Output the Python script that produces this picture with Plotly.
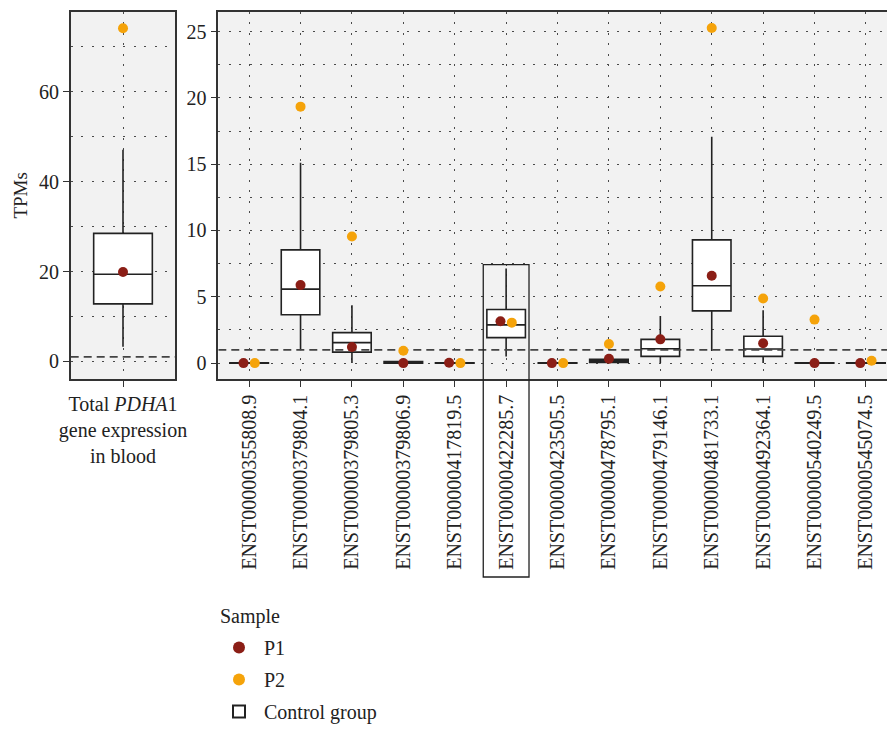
import plotly.graph_objects as go

# ---------------- data ----------------
transcripts = ["ENST00000355808.9", "ENST00000379804.1", "ENST00000379805.3",
               "ENST00000379806.9", "ENST00000417819.5", "ENST00000422285.7",
               "ENST00000423505.5", "ENST00000478795.1", "ENST00000479146.1",
               "ENST00000481733.1", "ENST00000492364.1", "ENST00000540249.5",
               "ENST00000545074.5"]
ctrl_lower = [0.0, 0.96, 0.0, 0.0, 0.0, 0.50, 0.0, 0.0, 0.0, 0.91, 0.0, 0.0, 0.0]
ctrl_q1 = [0.0, 3.64, 0.83, 0.0, 0.0, 1.92, 0.0, 0.04, 0.51, 3.94, 0.51, 0.0, 0.0]
ctrl_median = [0.0, 5.58, 1.54, 0.05, 0.0, 2.88, 0.0, 0.15, 1.08, 5.83, 1.06, 0.0, 0.0]
ctrl_q3 = [0.02, 8.54, 2.30, 0.12, 0.02, 4.04, 0.02, 0.28, 1.79, 9.29, 2.02, 0.02, 0.02]
ctrl_upper = [0.04, 15.1, 4.37, 0.2, 0.04, 7.14, 0.04, 0.35, 3.56, 17.07, 3.99, 0.04, 0.04]
p1_tpm = [0.0, 5.88, 1.21, 0.0, 0.03, 3.15, 0.0, 0.33, 1.79, 6.59, 1.49, 0.0, 0.0]
p2_tpm = [0.0, 19.34, 9.55, 0.93, 0.0, 3.05, 0.0, 1.44, 5.78, 25.27, 4.87, 3.28, 0.17]

total_label = "Total <i>PDHA</i>1<br>gene expression<br>in blood"
total_lower, total_q1, total_median, total_q3, total_upper = 3.3, 12.8, 19.4, 28.5, 47.1
total_p1, total_p2 = 19.9, 74.1

threshold = 1.0
highlight = "ENST00000422285.7"
highlight_top = 7.42

# ---------------- style ----------------
FONT = "Liberation Serif"
C_P1 = "#8b1e16"
C_P2 = "#f5a30a"
BG = "#f2f2f2"
AX = "#333333"
GRID = "#4a4a4a"
GDASH = "2px,8.5px"
TXT = "#222222"

W, H = 887, 731
y_top_px, y_bot_px = 11.7, 379.0
ydom = [1 - y_bot_px / H, 1 - y_top_px / H]
x1dom = [70.7 / W, 175.3 / W]
x2dom = [218.3 / W, 1.0]

x1range = [-0.6, 0.6]
x2range = [-0.6, 12.41]
y1range = [-3.9, 77.8]
y2range = [-1.2, 26.5]

idx = list(range(len(transcripts)))

def dodge(a, b):
    return 0.11 if abs(a - b) < 0.6 else 0.0

fig = go.Figure()

box_style = dict(fillcolor="white", line=dict(color="#222222", width=1.6),
                 whiskerwidth=0, boxpoints=False, hoverinfo="skip")
# control boxes
fig.add_trace(go.Box(
    x=[0], q1=[total_q1], median=[total_median], q3=[total_q3],
    lowerfence=[total_lower], upperfence=[total_upper],
    xaxis="x", yaxis="y", width=0.673, name="Control group",
    legendgroup="c", showlegend=False, **box_style))
fig.add_trace(go.Box(
    x=idx, q1=ctrl_q1, median=ctrl_median, q3=ctrl_q3,
    lowerfence=ctrl_lower, upperfence=ctrl_upper,
    xaxis="x2", yaxis="y2", width=0.75, name="Control group",
    legendgroup="c", legendrank=3, showlegend=True, **box_style))

# threshold lines
dash_line = dict(color="#444444", width=1.8, dash="8px,5px")
fig.add_trace(go.Scatter(x=x1range, y=[threshold, threshold], mode="lines",
                         xaxis="x", yaxis="y", showlegend=False, hoverinfo="skip",
                         line=dash_line))
fig.add_trace(go.Scatter(x=x2range, y=[threshold, threshold], mode="lines",
                         xaxis="x2", yaxis="y2", showlegend=False, hoverinfo="skip",
                         line=dash_line))

# points
offs = [dodge(a, b) for a, b in zip(p1_tpm, p2_tpm)]
o0 = dodge(total_p1, total_p2)
fig.add_trace(go.Scatter(x=[0 - o0], y=[total_p1], mode="markers", xaxis="x", yaxis="y",
                         marker=dict(color=C_P1, size=10), name="P1", legendgroup="p1",
                         showlegend=False))
fig.add_trace(go.Scatter(x=[0 + o0], y=[total_p2], mode="markers", xaxis="x", yaxis="y",
                         marker=dict(color=C_P2, size=10), name="P2", legendgroup="p2",
                         showlegend=False))
fig.add_trace(go.Scatter(x=[i - o for i, o in zip(idx, offs)], y=p1_tpm, mode="markers",
                         xaxis="x2", yaxis="y2", marker=dict(color=C_P1, size=10),
                         name="P1", legendgroup="p1", legendrank=1))
fig.add_trace(go.Scatter(x=[i + o for i, o in zip(idx, offs)], y=p2_tpm, mode="markers",
                         xaxis="x2", yaxis="y2", marker=dict(color=C_P2, size=10),
                         name="P2", legendgroup="p2", legendrank=2))

common_grid = dict(showgrid=True, gridcolor=GRID, gridwidth=1, griddash=GDASH,
                   showline=True, linecolor=AX, linewidth=1.6, mirror=True,
                   ticks="outside", ticklen=6, tickcolor=AX, tickwidth=1.3,
                   zeroline=False, automargin=False,
                   tickfont=dict(family=FONT, size=20, color=TXT))
minor_style = dict(showgrid=True, gridcolor=GRID, griddash=GDASH, gridwidth=1, ticks="")

fig.update_layout(
    width=W, height=H, margin=dict(l=0, r=0, t=0, b=0),
    paper_bgcolor="white", plot_bgcolor=BG,
    font=dict(family=FONT, size=20, color=TXT),
    xaxis=dict(domain=x1dom, range=x1range, tickvals=[0], ticktext=[total_label],
               tickangle=0, anchor="y", **common_grid),
    yaxis=dict(domain=ydom, range=y1range, tickvals=[0, 20, 40, 60], anchor="x",
               minor=dict(dtick=10, tick0=0, **minor_style),
               title=dict(text="TPMs", font=dict(family=FONT, size=19, color=TXT), standoff=6),
               **common_grid),
    xaxis2=dict(domain=x2dom, range=x2range, tickvals=idx, ticktext=transcripts,
                tickangle=-90, anchor="y2", **common_grid),
    yaxis2=dict(domain=ydom, range=y2range, tickvals=[0, 5, 10, 15, 20, 25], anchor="x2",
                minor=dict(dtick=2.5, tick0=0, **minor_style),
                **common_grid),
    legend=dict(x=214 / W, y=0, xanchor="left", yanchor="bottom",
                font=dict(family=FONT, size=20, color=TXT), bgcolor="rgba(0,0,0,0)",
                tracegroupgap=3, itemsizing="constant", itemwidth=40),
    showlegend=True,
    annotations=[dict(text="Sample", xref="paper", yref="paper", x=218 / W, y=1 - 616 / H,
                      xanchor="left", yanchor="middle", showarrow=False,
                      font=dict(family=FONT, size=20, color=TXT))],
)

# highlight frame around the selected transcript
hi = transcripts.index(highlight)
def xfrac(v):
    return (v - x2range[0]) / (x2range[1] - x2range[0])
def yfrac(v):
    return ydom[0] + (v - y2range[0]) / (y2range[1] - y2range[0]) * (ydom[1] - ydom[0])
fig.add_shape(type="rect", xref="x2 domain", yref="paper",
              x0=xfrac(hi - 0.445), x1=xfrac(hi + 0.445),
              y0=1 - 577 / H, y1=yfrac(highlight_top),
              line=dict(color="#222222", width=1.3), fillcolor="rgba(0,0,0,0)", layer="above")

fig.write_html("out.html")
